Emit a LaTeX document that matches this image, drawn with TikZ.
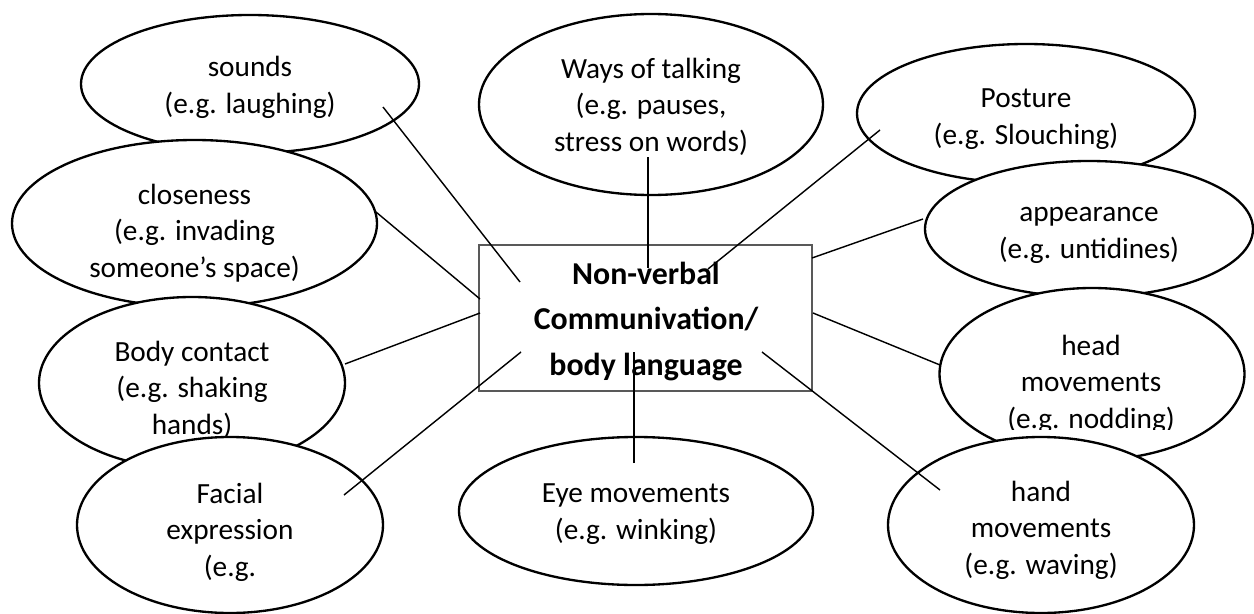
\documentclass[tikz,border=0pt]{standalone}
\usepackage{fontspec}
\setmainfont{Carlito}
\usetikzlibrary{shapes.geometric}
\newcommand\pxu{0.386pt}
% one bubble: name, centre x, centre y, width, height, last baseline, text
\newcommand\bubble[7]{
  \node[bubble, minimum width=#4*\pxu, minimum height=#5*\pxu] (#1) at (#2,#3) {};
  \node[bubbletext] (#1-text) at (#2,#6) {#7};
}
\tikzset{
  bubble/.style={ellipse, draw=black, line width=0.9pt, fill=white, inner sep=0pt},
  bubbletext/.style={anchor=base, align=center, inner sep=0pt,
    font=\fontsize{11.3}{13.9}\selectfont},
  mainbox/.style={rectangle, draw=black!65, line width=0.75pt, fill=white, inner sep=0pt},
  link/.style={draw=black, line width=0.55pt}
}
\begin{document}
\begin{tikzpicture}[x=\pxu, y=-\pxu]
\useasboundingbox (0,0) rectangle (1254,614);
% left column
\bubble{sounds}{250}{84}{338}{138}{113}{sounds\\(e.g. laughing)}
\bubble{closeness}{194.5}{223.5}{365}{167}{277}{closeness\\(e.g. invading\\someone’s space)}
\bubble{contact}{192}{383}{306}{172}{434}{Body contact\\(e.g. shaking\\hands)}
\bubble{facial}{230}{525}{306}{176}{576}{Facial\\expression\\(e.g.}
% middle
\bubble{talking}{651}{104.5}{344}{181}{151}{Ways of talking\\(e.g. pauses,\\stress on words)}
\bubble{eye}{636}{511}{354}{148}{539}{Eye movements\\(e.g. winking)}
% right column
\bubble{posture}{1026}{113.5}{338}{139}{144}{Posture\\(e.g. Slouching)}
\bubble{appearance}{1089}{229}{328}{136}{258}{appearance\\(e.g. untidines)}
\node[bubble, minimum width=305*\pxu, minimum height=172*\pxu] (head) at (1092,374) {};
\begin{scope}
  \clip (940,288) rectangle (1245,429);
  \node[bubbletext] (head-text) at (1091,428) {head\\movements\\(e.g. nodding)};
\end{scope}
\bubble{hand}{1041}{525}{306}{176}{574}{hand\\movements\\(e.g. waving)}

% centre box
\node[mainbox, minimum width=333*\pxu, minimum height=146*\pxu] (box) at (645.5,318) {};
\begin{scope}
  \clip (479,245) rectangle (812,380);
  \node[anchor=base, align=center, inner sep=0pt,
    font=\fontsize{12.3}{17.4}\selectfont\bfseries] (box-text) at (646,375)
    {Non-verbal\\Communivation/\\body language};
\end{scope}

% connectors
\coordinate (sounds-from) at (383,107);   \coordinate (sounds-to) at (520,282);
\coordinate (closeness-from) at (376,212); \coordinate (closeness-to) at (480,299);
\coordinate (contact-from) at (345,364);  \coordinate (contact-to) at (480,313);
\coordinate (facial-from) at (344,495);   \coordinate (facial-to) at (521,352);
\coordinate (talking-from) at (648,157);  \coordinate (talking-to) at (648,268);
\coordinate (posture-from) at (880,130);  \coordinate (posture-to) at (708,269);
\coordinate (appearance-from) at (923,219); \coordinate (appearance-to) at (812,258);
\coordinate (head-from) at (940,365);     \coordinate (head-to) at (813,313);
\coordinate (hand-from) at (940,490);     \coordinate (hand-to) at (762,352);
\coordinate (eye-from) at (634,463);      \coordinate (eye-to) at (634,352);
\foreach \n in {sounds,closeness,contact,facial,talking,posture,appearance,head,hand,eye}
{
  \draw[link] (\n-from) -- (\n-to);
}
\end{tikzpicture}
\end{document}
